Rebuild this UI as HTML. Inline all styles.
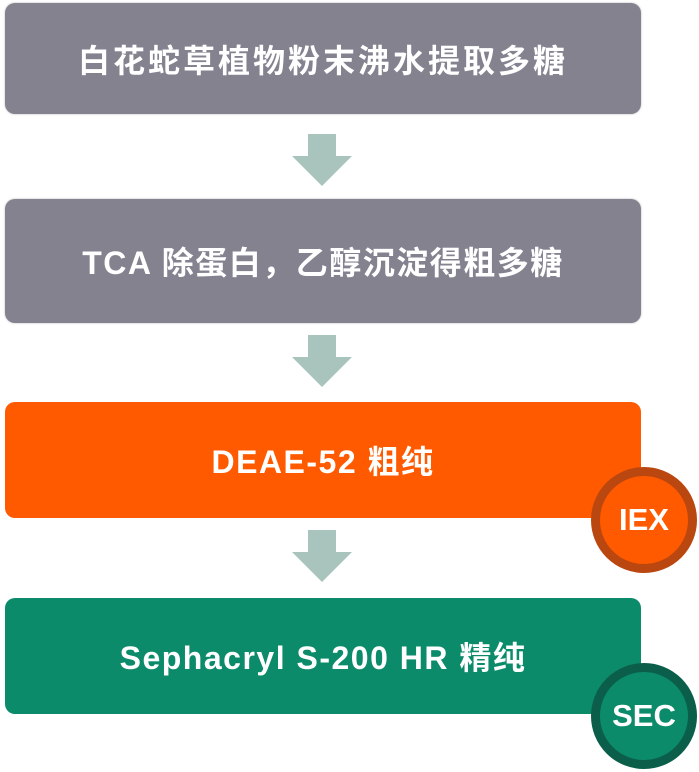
<!DOCTYPE html>
<html><head><meta charset="utf-8"><style>
body{margin:0;width:699px;height:772px;background:#fff;position:relative;overflow:hidden;font-family:"Liberation Sans","Noto Sans CJK SC",sans-serif;}
.b{position:absolute;left:5px;width:636px;border-radius:10px;color:#fff;font-weight:bold;font-size:32px;display:flex;align-items:center;justify-content:center;letter-spacing:1.5px}
.g{background:#858290;box-shadow:0 0 2px #bbb}
.c{position:absolute;width:88px;height:88px;border-radius:50%;color:#fff;font-weight:bold;font-size:31px;display:flex;align-items:center;justify-content:center}
svg{position:absolute;left:292px}
</style></head><body>
<div class="b g" style="top:3px;height:111px;letter-spacing:3px">白花蛇草植物粉末沸水提取多糖</div>
<svg style="top:134px" width="60" height="54"><polygon points="16,0 44,0 44,22 60,22 30,52 0,22 16,22" fill="#a8c4bc"/></svg>
<div class="b g" style="top:199px;height:124px">TCA 除蛋白，乙醇沉淀得粗多糖</div>
<svg style="top:335px" width="60" height="54"><polygon points="16,0 44,0 44,22 60,22 30,52 0,22 16,22" fill="#a8c4bc"/></svg>
<div class="b" style="top:402px;height:116px;background:#ff5a00">DEAE-52 粗纯</div>
<div class="c" style="left:591px;top:467px;background:#ff5a00;border:9px solid #bb4710">IEX</div>
<svg style="top:530px" width="60" height="54"><polygon points="16,0 44,0 44,22 60,22 30,52 0,22 16,22" fill="#a8c4bc"/></svg>
<div class="b" style="top:598px;height:116px;background:#0c8b6b">Sephacryl S-200 HR 精纯</div>
<div class="c" style="left:591px;top:663px;background:#0c8b6b;border:9px solid #0a5e4a">SEC</div>
</body></html>
